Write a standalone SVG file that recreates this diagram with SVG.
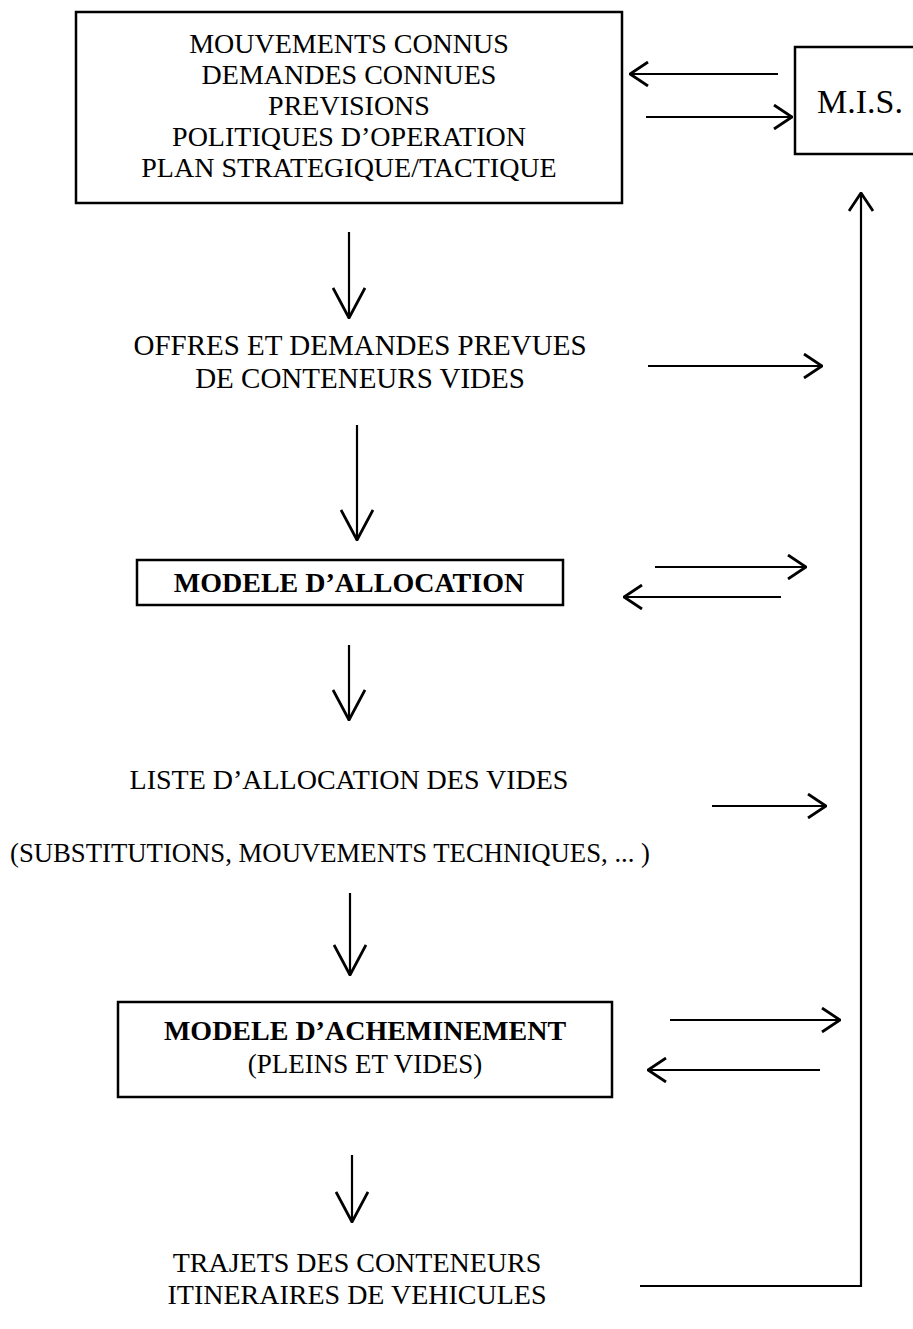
<svg xmlns="http://www.w3.org/2000/svg" width="913" height="1329" viewBox="0 0 913 1329">
<style>
.t{font-family:"Liberation Serif","Times New Roman",serif;font-size:28px;fill:#000;text-anchor:middle}
.b{font-family:"Liberation Serif","Times New Roman",serif;font-size:28px;font-weight:bold;fill:#000;text-anchor:middle}
.box{fill:#fff;stroke:#000;stroke-width:2.5}
.ln{fill:none;stroke:#000;stroke-width:2.2}
</style>
<defs>
<marker id="big" viewBox="0 0 32 34" refX="31" refY="17" markerWidth="32" markerHeight="34" markerUnits="userSpaceOnUse" orient="auto">
<path d="M1,1 L31,17 L1,33" fill="none" stroke="#000" stroke-width="2.8"/>
</marker>
<marker id="sm" viewBox="0 0 20 26" refX="19" refY="13" markerWidth="20" markerHeight="26" markerUnits="userSpaceOnUse" orient="auto">
<path d="M1,1 L19,13 L1,25" fill="none" stroke="#000" stroke-width="2.8"/>
</marker>
</defs>
<rect width="913" height="1329" fill="#fff"/>

<g id="inputs">
<rect class="box" x="76" y="12" width="546" height="191"/>
<text class="t" x="349" y="53">MOUVEMENTS CONNUS</text>
<text class="t" x="349" y="84">DEMANDES CONNUES</text>
<text class="t" x="349" y="115">PREVISIONS</text>
<text class="t" x="349" y="146">POLITIQUES D’OPERATION</text>
<text class="t" x="349" y="177">PLAN STRATEGIQUE/TACTIQUE</text>
</g>

<g id="mis">
<rect class="box" x="795" y="47" width="140" height="107"/>
<text class="t" x="860" y="113" style="font-size:34px">M.I.S.</text>
</g>

<g id="offres">
<text class="t" x="360" y="355" style="font-size:29px">OFFRES ET DEMANDES PREVUES</text>
<text class="t" x="360" y="388" style="font-size:29px">DE CONTENEURS VIDES</text>
</g>

<g id="allocation">
<rect class="box" x="137" y="560" width="426" height="45"/>
<text class="b" x="349" y="592">MODELE D’ALLOCATION</text>
</g>

<g id="liste">
<text class="t" x="349" y="789">LISTE D’ALLOCATION DES VIDES</text>
<text class="t" x="330" y="862" textLength="640" lengthAdjust="spacingAndGlyphs">(SUBSTITUTIONS, MOUVEMENTS TECHNIQUES, ... )</text>
</g>

<g id="acheminement">
<rect class="box" x="118" y="1002" width="494" height="95"/>
<text class="b" x="365" y="1040">MODELE D’ACHEMINEMENT</text>
<text class="t" x="365" y="1073" style="font-size:27px">(PLEINS ET VIDES)</text>
</g>

<g id="trajets">
<text class="t" x="357" y="1272">TRAJETS DES CONTENEURS</text>
<text class="t" x="357" y="1304">ITINERAIRES DE VEHICULES</text>
</g>

<g id="connectors">
<line class="ln" x1="778" y1="74" x2="630" y2="74" marker-end="url(#sm)"/>
<line class="ln" x1="646" y1="117" x2="792" y2="117" marker-end="url(#sm)"/>
<line class="ln" x1="349" y1="232" x2="349" y2="318" marker-end="url(#big)"/>
<line class="ln" x1="648" y1="366" x2="822" y2="366" marker-end="url(#sm)"/>
<line class="ln" x1="357" y1="425" x2="357" y2="540" marker-end="url(#big)"/>
<line class="ln" x1="655" y1="567" x2="806" y2="567" marker-end="url(#sm)"/>
<line class="ln" x1="781" y1="597" x2="624" y2="597" marker-end="url(#sm)"/>
<line class="ln" x1="349" y1="645" x2="349" y2="720" marker-end="url(#big)"/>
<line class="ln" x1="712" y1="806" x2="826" y2="806" marker-end="url(#sm)"/>
<line class="ln" x1="350" y1="893" x2="350" y2="975" marker-end="url(#big)"/>
<line class="ln" x1="670" y1="1020" x2="840" y2="1020" marker-end="url(#sm)"/>
<line class="ln" x1="820" y1="1070" x2="648" y2="1070" marker-end="url(#sm)"/>
<line class="ln" x1="352" y1="1155" x2="352" y2="1222" marker-end="url(#big)"/>
<polyline class="ln" points="640,1286 861,1286 861,193" marker-end="url(#sm)"/>
</g>
</svg>
